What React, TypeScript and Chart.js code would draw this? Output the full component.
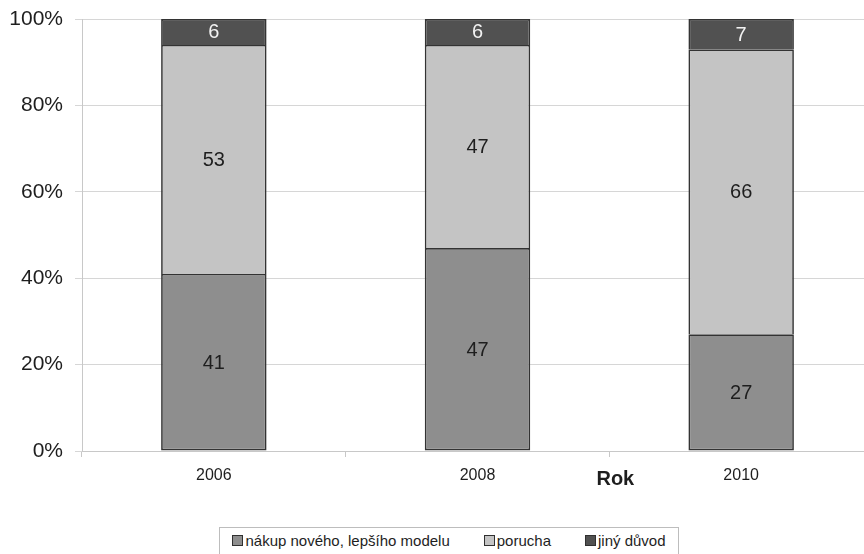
import React, { useEffect, useRef } from "react";
import { Chart, registerables } from "chart.js";

Chart.register(...registerables);

const years = ["2006", "2008", "2010"];
const novyModel = [41, 47, 27];
const porucha = [53, 47, 66];
const jinyDuvod = [6, 6, 7];
const seriesNames = ["nákup nového, lepšího modelu", "porucha", "jiný důvod"];
const seriesColors = ["#8e8e8e", "#c4c4c4", "#515151"];
const labelColors = ["#1e1e1e", "#1e1e1e", "#f2f2f2"];
const yTicks = [0, 20, 40, 60, 80, 100];
const axisTitle = "Rok";

const FONT = "'Liberation Sans', Arial, Helvetica, sans-serif";

const W = 873;
const H = 501;

const valueLabels = {
  id: "valueLabels",
  afterDatasetsDraw(chart: any) {
    const ctx = chart.ctx;
    ctx.save();
    ctx.font = `20px ${FONT}`;
    ctx.textAlign = "center";
    ctx.textBaseline = "middle";
    chart.data.datasets.forEach((ds: any, di: number) => {
      const meta = chart.getDatasetMeta(di);
      meta.data.forEach((bar: any, i: number) => {
        const { x, y, base } = bar.getProps(["x", "y", "base"], true);
        ctx.fillStyle = labelColors[di];
        ctx.fillText(String(ds.data[i]), x, (y + base) / 2 + 1);
      });
    });
    ctx.restore();
  },
};

const rokTitle = {
  id: "rokTitle",
  afterDraw(chart: any) {
    const xs = chart.scales.x;
    const ctx = chart.ctx;
    const cx = (xs.getPixelForValue(1) + xs.getPixelForValue(2)) / 2 + 6;
    ctx.save();
    ctx.font = `bold 20px ${FONT}`;
    ctx.fillStyle = "#1e1e1e";
    ctx.textAlign = "center";
    ctx.textBaseline = "middle";
    ctx.fillText(axisTitle, cx, chart.chartArea.bottom + 28);
    ctx.restore();
  },
};

export default function App() {
  const ref = useRef<HTMLCanvasElement | null>(null);

  useEffect(() => {
    if (!ref.current) return;
    const data = [novyModel, porucha, jinyDuvod];
    const chart = new Chart(ref.current, {
      type: "bar",
      data: {
        labels: years,
        datasets: data.map((d, i) => ({
          label: seriesNames[i],
          data: d,
          backgroundColor: seriesColors[i],
          borderColor: "#333333",
          borderWidth: 1.7,
          // upper segments share the divider drawn by their own top edge
          borderSkipped: i === 0 ? false : "start",
          barPercentage: 0.4,
          categoryPercentage: 1,
        })),
      },
      options: {
        responsive: false,
        animation: false,
        devicePixelRatio: 1,
        layout: { padding: { top: 19, right: 0, bottom: 0, left: 0 } },
        plugins: {
          legend: { display: false },
          tooltip: { enabled: false },
        },
        scales: {
          x: {
            stacked: true,
            grid: {
              offset: true,
              drawOnChartArea: false,
              drawTicks: true,
              tickLength: 6,
              color: "#c8c8c8",
            },
            border: { display: true, color: "#c8c8c8" },
            ticks: {
              color: "#1e1e1e",
              font: { family: FONT, size: 16 },
              padding: 9,
            },
            afterFit(scale: any) {
              scale.height = 50;
            },
          },
          y: {
            stacked: true,
            min: 0,
            max: 100,
            afterBuildTicks(scale: any) {
              scale.ticks = yTicks.map((v) => ({ value: v }));
            },
            grid: {
              color: "#d6d6d6",
              drawTicks: true,
              tickLength: 7,
            },
            border: { display: true, color: "#c8c8c8" },
            ticks: {
              color: "#1e1e1e",
              font: { family: FONT, size: 21 },
              padding: 12,
              callback: (v: any) => `${v}%`,
            },
            afterFit(scale: any) {
              scale.width = 82;
              scale.paddingTop = 0;
              scale.paddingBottom = 0;
            },
          },
        },
      },
      plugins: [valueLabels, rokTitle],
    });
    return () => chart.destroy();
  }, []);

  return (
    <div
      style={{
        position: "fixed",
        left: 0,
        top: 0,
        width: 864,
        height: 554,
        overflow: "hidden",
        background: "#fff",
      }}
    >
      <canvas
        ref={ref}
        width={W}
        height={H}
        style={{ display: "block", width: W, height: H }}
      />
      <div
        style={{
          position: "absolute",
          left: 219,
          top: 527,
          width: 460,
          height: 40,
          border: "1px solid #bdbdbd",
          boxSizing: "border-box",
          display: "flex",
          alignItems: "flex-start",
          justifyContent: "center",
          paddingTop: 4,
          gap: 34,
          fontFamily: FONT,
          fontSize: 15,
          color: "#1e1e1e",
        }}
      >
        {seriesNames.map((name, i) => (
          <div key={name} style={{ display: "flex", alignItems: "center", gap: 2 }}>
            <span
              style={{
                display: "inline-block",
                width: 9,
                height: 9,
                background: seriesColors[i],
                border: "1px solid #303030",
              }}
            />
            <span>{name}</span>
          </div>
        ))}
      </div>
    </div>
  );
}
